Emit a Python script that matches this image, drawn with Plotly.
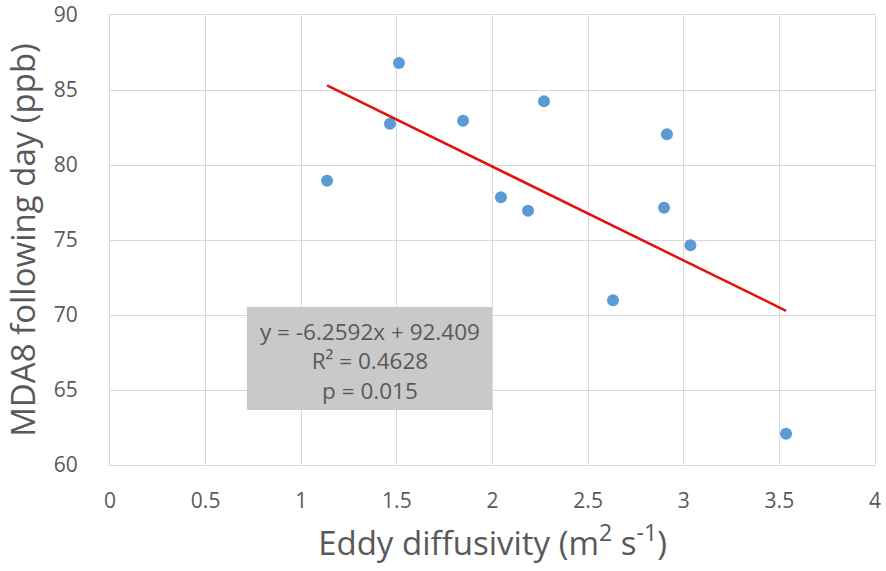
import plotly.graph_objects as go

eddy_diffusivity = [1.135, 1.464, 1.511, 1.846, 2.044, 2.186, 2.269, 2.63, 2.897, 2.912, 3.035, 3.535]
mda8_next_day = [78.95, 82.75, 86.8, 82.95, 77.85, 76.95, 84.25, 70.98, 77.15, 82.05, 74.65, 62.08]

trend_slope = -6.2592
trend_intercept = 92.409
stats_lines = ["y = -6.2592x + 92.409", "R² = 0.4628", "p = 0.015"]

x_ticks = [0, 0.5, 1, 1.5, 2, 2.5, 3, 3.5, 4]
x_tick_labels = ["0", "0.5", "1", "1.5", "2", "2.5", "3", "3.5", "4"]
y_ticks = [60, 65, 70, 75, 80, 85, 90]

FONT = "Open Sans"
GRAY = "#595959"

x_lo, x_hi = min(eddy_diffusivity), max(eddy_diffusivity)
trend_x = [x_lo, x_hi]
trend_y = [trend_slope * v + trend_intercept for v in trend_x]

fig = go.Figure()
fig.add_trace(go.Scatter(
    x=eddy_diffusivity, y=mda8_next_day, mode="markers",
    marker=dict(color="#5b9bd5", size=12, line=dict(width=0)),
    showlegend=False, hoverinfo="x+y"))
fig.add_trace(go.Scatter(
    x=trend_x, y=trend_y, mode="lines",
    line=dict(color="#e3120b", width=2.5),
    showlegend=False))

# stats box
fig.add_shape(type="rect", xref="x", yref="y",
              x0=0.716, x1=1.997, y0=63.67, y1=70.53,
              fillcolor="#c9c9c9", line=dict(width=0), layer="above")
fig.add_annotation(
    x=1.357, y=66.93, xref="x", yref="y",
    text="<br>".join(stats_lines),
    showarrow=False, align="center",
    font=dict(family=FONT, size=22.5, color=GRAY))

fig.update_layout(
    width=886, height=571,
    margin=dict(l=110, r=11, t=15, b=106, autoexpand=False),
    paper_bgcolor="white", plot_bgcolor="white",
    font=dict(family=FONT, color=GRAY),
    xaxis=dict(
        range=[0, 4], tickvals=x_ticks, ticktext=x_tick_labels,
        showgrid=True, gridcolor="#d9d9d9", gridwidth=1,
        showline=True, linecolor="#d9d9d9", linewidth=1, mirror=True,
        zeroline=False, ticks="outside", ticklen=17, tickcolor="rgba(0,0,0,0)",
        tickfont=dict(family=FONT, size=21, color=GRAY), automargin=False,
        title=dict(text="Eddy diffusivity (m<sup>2</sup> s<sup>-1</sup>)",
                   font=dict(family=FONT, size=33, color=GRAY), standoff=18),
    ),
    yaxis=dict(
        range=[60, 90], tickvals=y_ticks,
        showgrid=True, gridcolor="#d9d9d9", gridwidth=1,
        showline=True, linecolor="#d9d9d9", linewidth=1, mirror=True,
        zeroline=False, ticks="outside", ticklen=27, tickcolor="rgba(0,0,0,0)",
        tickfont=dict(family=FONT, size=21, color=GRAY), automargin=False,
        title=dict(text="MDA8 following day (ppb)",
                   font=dict(family=FONT, size=33, color=GRAY), standoff=20),
    ),
)

fig.write_html("out.html")
